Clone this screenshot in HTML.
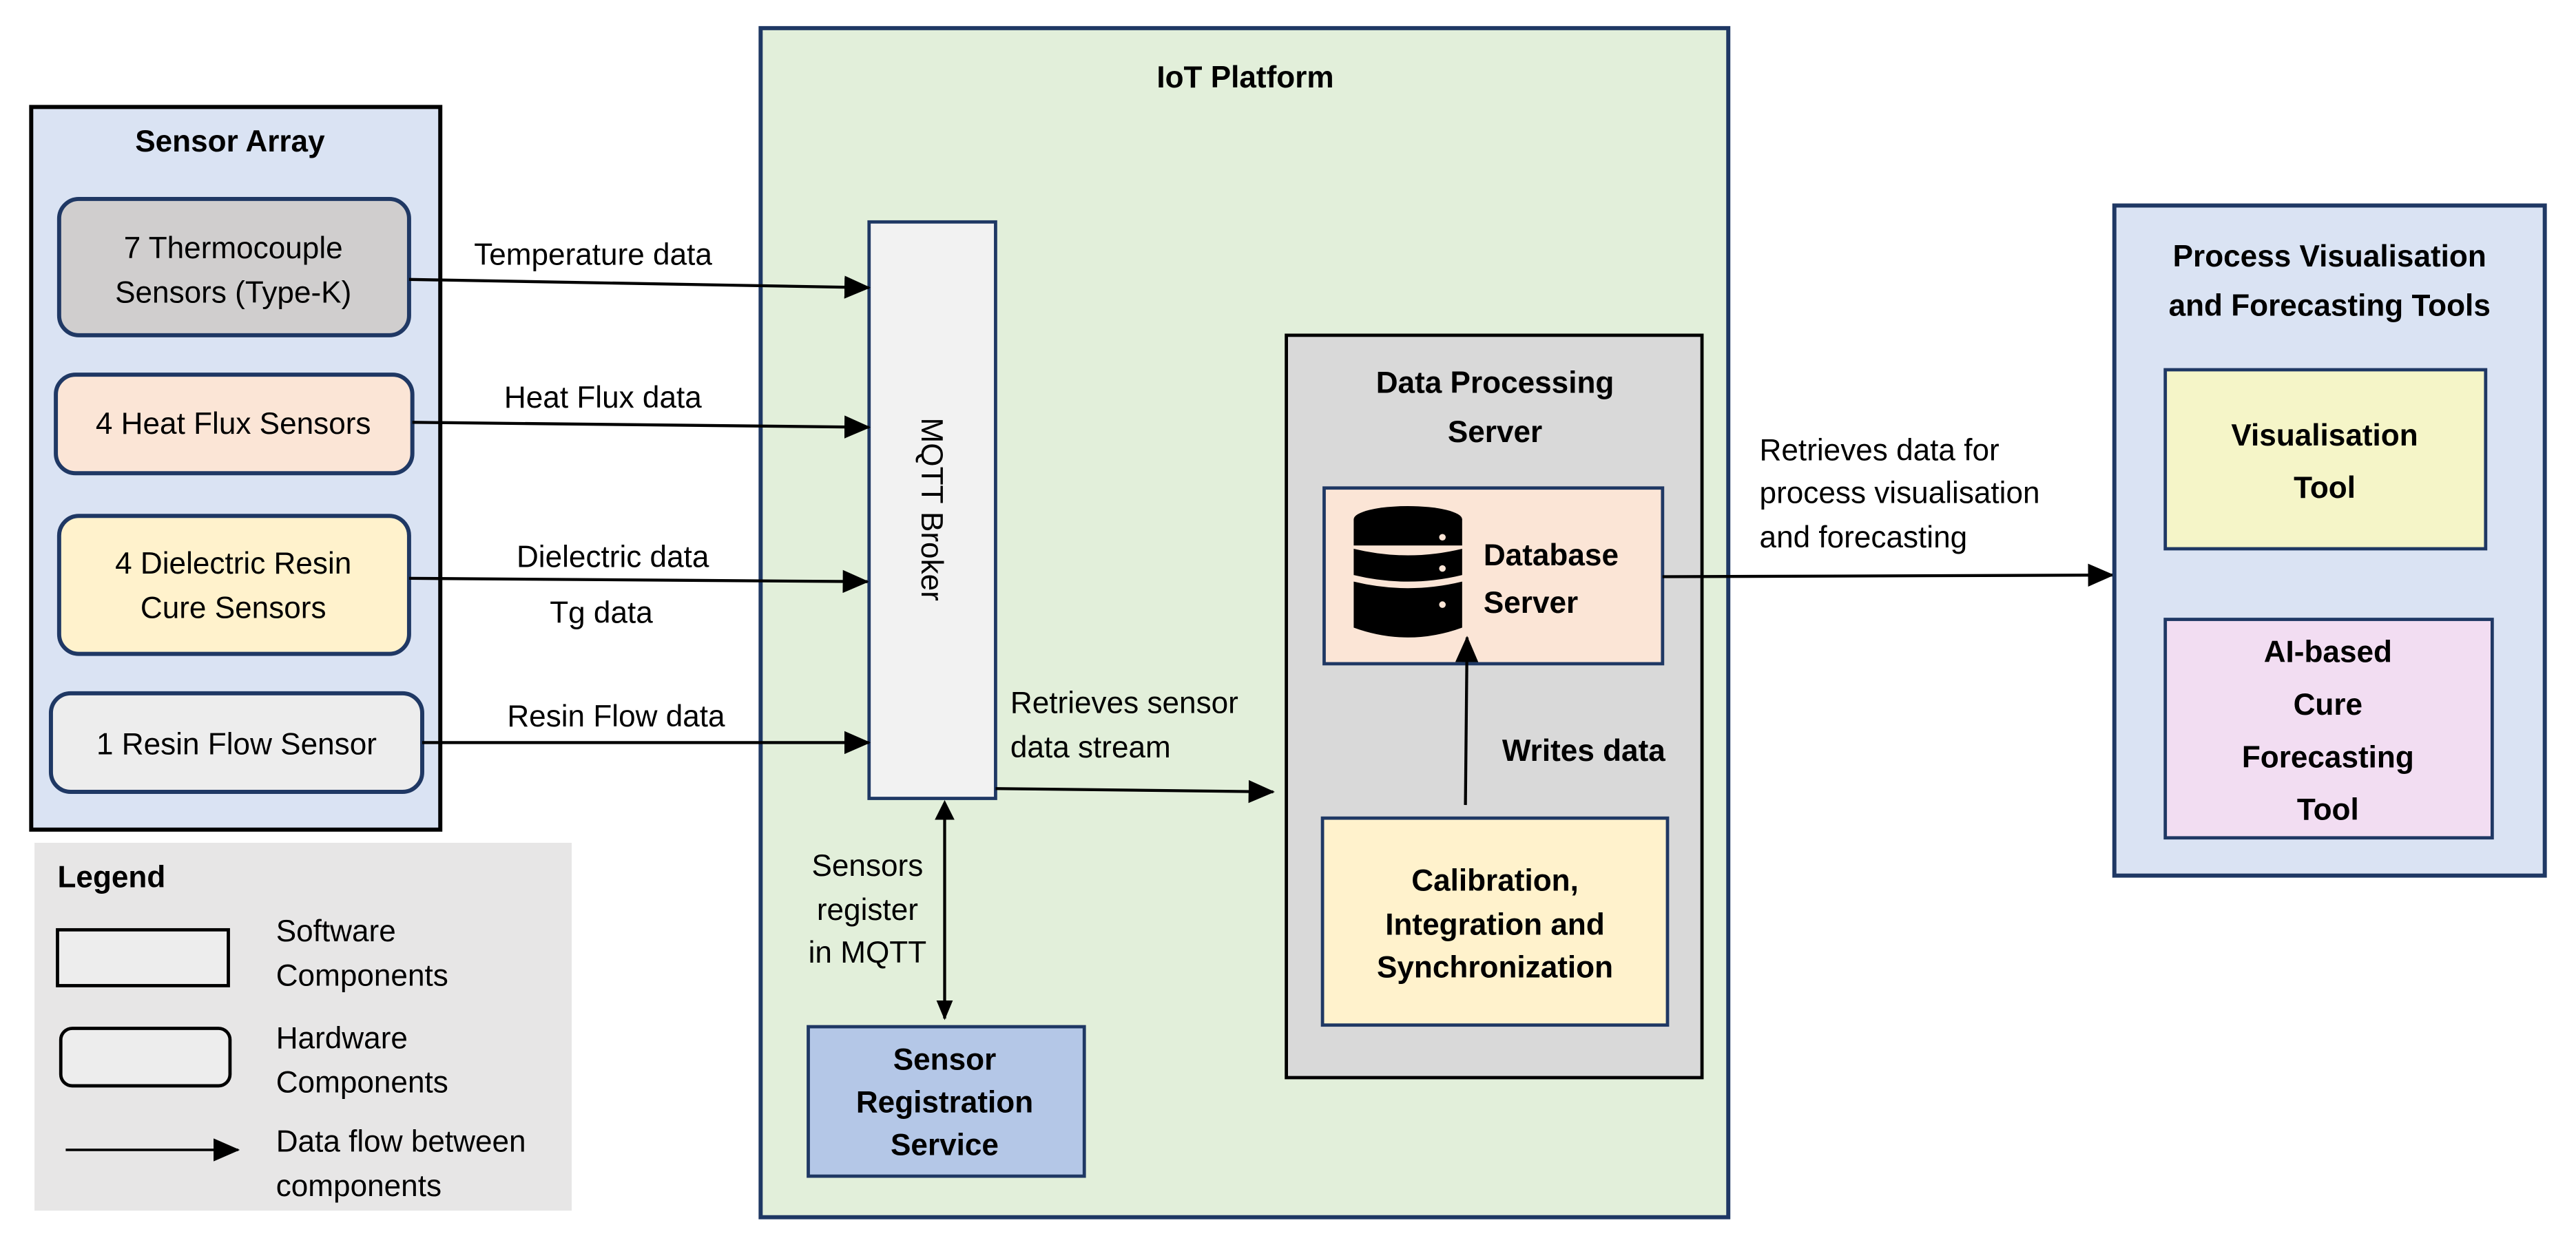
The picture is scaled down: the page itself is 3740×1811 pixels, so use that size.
<!DOCTYPE html>
<html><head><meta charset="utf-8"><style>html,body{margin:0;padding:0;background:#fff}svg{display:block}</style></head>
<body>
<svg width="3740" height="1811" viewBox="0 0 1568 759" xmlns="http://www.w3.org/2000/svg" font-family="'Liberation Sans', sans-serif">
<defs>
<marker id="ah" markerWidth="16" markerHeight="14" refX="15" refY="7" orient="auto" markerUnits="userSpaceOnUse" viewBox="0 0 16 14"><path d="M0,0 L16,7 L0,14 z" fill="#000"/></marker>
<marker id="ahs" markerWidth="12" markerHeight="10" refX="11" refY="5" orient="auto" markerUnits="userSpaceOnUse" viewBox="0 0 12 10"><path d="M0,0 L12,5 L0,10 z" fill="#000"/></marker>
</defs>
<style>
text{dominant-baseline:central;font-size:18.5px;fill:#000}
.b{font-weight:bold}
.c{text-anchor:middle}
</style>
<rect width="1568" height="759" fill="#fff"/>

<!-- Sensor Array -->
<rect x="19" y="65" width="249" height="440" fill="#dae3f3" stroke="#000" stroke-width="2.5"/>
<text x="140" y="86" class="b c" font-size="19.5">Sensor Array</text>
<rect x="36" y="121" width="213" height="83" rx="12" fill="#d0cece" stroke="#1f3864" stroke-width="2.5"/>
<text x="142" y="151" class="c">7 Thermocouple</text>
<text x="142" y="178" class="c">Sensors (Type-K)</text>
<rect x="34" y="228" width="217" height="60" rx="12" fill="#fbe5d6" stroke="#1f3864" stroke-width="2.5"/>
<text x="142" y="258" class="c">4 Heat Flux Sensors</text>
<rect x="36" y="314" width="213" height="84" rx="12" fill="#fff2cc" stroke="#1f3864" stroke-width="2.5"/>
<text x="142" y="343" class="c">4 Dielectric Resin</text>
<text x="142" y="370" class="c">Cure Sensors</text>
<rect x="31" y="422" width="226" height="60" rx="12" fill="#ededed" stroke="#1f3864" stroke-width="2.5"/>
<text x="144" y="453" class="c">1 Resin Flow Sensor</text>

<!-- Legend -->
<rect x="21" y="513" width="327" height="224" fill="#e7e6e6"/>
<text x="35" y="534" class="b" font-size="19.5">Legend</text>
<rect x="35" y="566" width="104" height="34" fill="#ededed" stroke="#000" stroke-width="2"/>
<rect x="37" y="626" width="103" height="35" rx="7" fill="#ededed" stroke="#000" stroke-width="2"/>
<line x1="40" y1="700" x2="145" y2="700" stroke="#000" stroke-width="1.5" marker-end="url(#ah)"/>
<text x="168" y="567">Software</text>
<text x="168" y="594">Components</text>
<text x="168" y="632">Hardware</text>
<text x="168" y="659">Components</text>
<text x="168" y="695">Data flow between</text>
<text x="168" y="722">components</text>

<!-- IoT Platform -->
<rect x="463" y="17" width="589" height="724" fill="#e2efda" stroke="#1f3864" stroke-width="2.5"/>
<text x="758" y="47" class="b c" font-size="21">IoT Platform</text>
<rect x="529" y="135" width="77" height="351" fill="#f2f2f2" stroke="#1f3864" stroke-width="2"/>
<text x="567" y="310" class="c" transform="rotate(90 567 310)">MQTT Broker</text>

<!-- Sensor arrows -->
<line x1="249" y1="170" x2="529" y2="175" stroke="#000" stroke-width="1.8" marker-end="url(#ah)"/>
<text x="361" y="155" class="c">Temperature data</text>
<line x1="251" y1="257" x2="529" y2="260" stroke="#000" stroke-width="1.8" marker-end="url(#ah)"/>
<text x="367" y="242" class="c">Heat Flux data</text>
<line x1="249" y1="352" x2="528" y2="354" stroke="#000" stroke-width="1.8" marker-end="url(#ah)"/>
<text x="373" y="339" class="c">Dielectric data</text>
<text x="366" y="373" class="c">Tg data</text>
<line x1="257" y1="452" x2="529" y2="452" stroke="#000" stroke-width="1.8" marker-end="url(#ah)"/>
<text x="375" y="436" class="c">Resin Flow data</text>

<!-- MQTT to DPS -->
<text x="615" y="428">Retrieves sensor</text>
<text x="615" y="455">data stream</text>
<line x1="606" y1="480" x2="775" y2="482" stroke="#000" stroke-width="1.8" marker-end="url(#ah)"/>

<!-- Registration -->
<line x1="575" y1="497" x2="575" y2="620" stroke="#000" stroke-width="1.8" marker-end="url(#ahs)"/>
<path d="M575,487 L569,499 L581,499 z" fill="#000"/>
<text x="528" y="527" class="c">Sensors</text>
<text x="528" y="554" class="c">register</text>
<text x="528" y="580" class="c">in MQTT</text>
<rect x="492" y="625" width="168" height="91" fill="#b4c7e7" stroke="#1f3864" stroke-width="2"/>
<text x="575" y="645" class="b c">Sensor</text>
<text x="575" y="671" class="b c">Registration</text>
<text x="575" y="697" class="b c">Service</text>

<!-- Data Processing Server -->
<rect x="783" y="204" width="253" height="452" fill="#d9d9d9" stroke="#000" stroke-width="2"/>
<text x="910" y="233" class="b c" font-size="19.5">Data Processing</text>
<text x="910" y="263" class="b c" font-size="19.5">Server</text>
<rect x="806" y="297" width="206" height="107" fill="#fbe5d6" stroke="#1f3864" stroke-width="2"/>
<g fill="#000">
<ellipse cx="857" cy="316" rx="33" ry="8"/>
<rect x="824" y="316" width="66" height="16"/>
<path d="M824,334 Q857,342 890,334 L890,350 Q857,358 824,350 z"/>
<path d="M824,354 Q857,362 890,354 L890,382 Q857,394 824,382 z"/>
</g>
<g fill="#fbe5d6"><circle cx="878" cy="327" r="2"/><circle cx="878" cy="346" r="2"/><circle cx="878" cy="368" r="2"/></g>
<text x="903" y="338" class="b" font-size="20.5">Database</text>
<text x="903" y="367" class="b" font-size="20.5">Server</text>
<line x1="892" y1="490" x2="893" y2="388" stroke="#000" stroke-width="1.8" marker-end="url(#ah)"/>
<text x="964" y="457" class="b c">Writes data</text>
<rect x="805" y="498" width="210" height="126" fill="#fff2cc" stroke="#1f3864" stroke-width="2"/>
<text x="910" y="536" class="b c">Calibration,</text>
<text x="910" y="563" class="b c">Integration and</text>
<text x="910" y="589" class="b c">Synchronization</text>

<!-- DB to tools -->
<line x1="1012" y1="351" x2="1286" y2="350" stroke="#000" stroke-width="1.8" marker-end="url(#ah)"/>
<text x="1071" y="274">Retrieves data for</text>
<text x="1071" y="300">process visualisation</text>
<text x="1071" y="327">and forecasting</text>

<!-- Right panel -->
<rect x="1287" y="125" width="262" height="408" fill="#dae3f3" stroke="#1f3864" stroke-width="2.5"/>
<text x="1418" y="156" class="b c" font-size="19.5">Process Visualisation</text>
<text x="1418" y="186" class="b c" font-size="19.5">and Forecasting Tools</text>
<rect x="1318" y="225" width="195" height="109" fill="#f5f5c8" stroke="#1f3864" stroke-width="2"/>
<text x="1415" y="265" class="b c" font-size="23">Visualisation</text>
<text x="1415" y="297" class="b c" font-size="23">Tool</text>
<rect x="1318" y="377" width="199" height="133" fill="#f2ddf2" stroke="#1f3864" stroke-width="2"/>
<text x="1417" y="397" class="b c" font-size="23">AI-based</text>
<text x="1417" y="429" class="b c" font-size="23">Cure</text>
<text x="1417" y="461" class="b c" font-size="23">Forecasting</text>
<text x="1417" y="493" class="b c" font-size="23">Tool</text>
</svg>
</body></html>
